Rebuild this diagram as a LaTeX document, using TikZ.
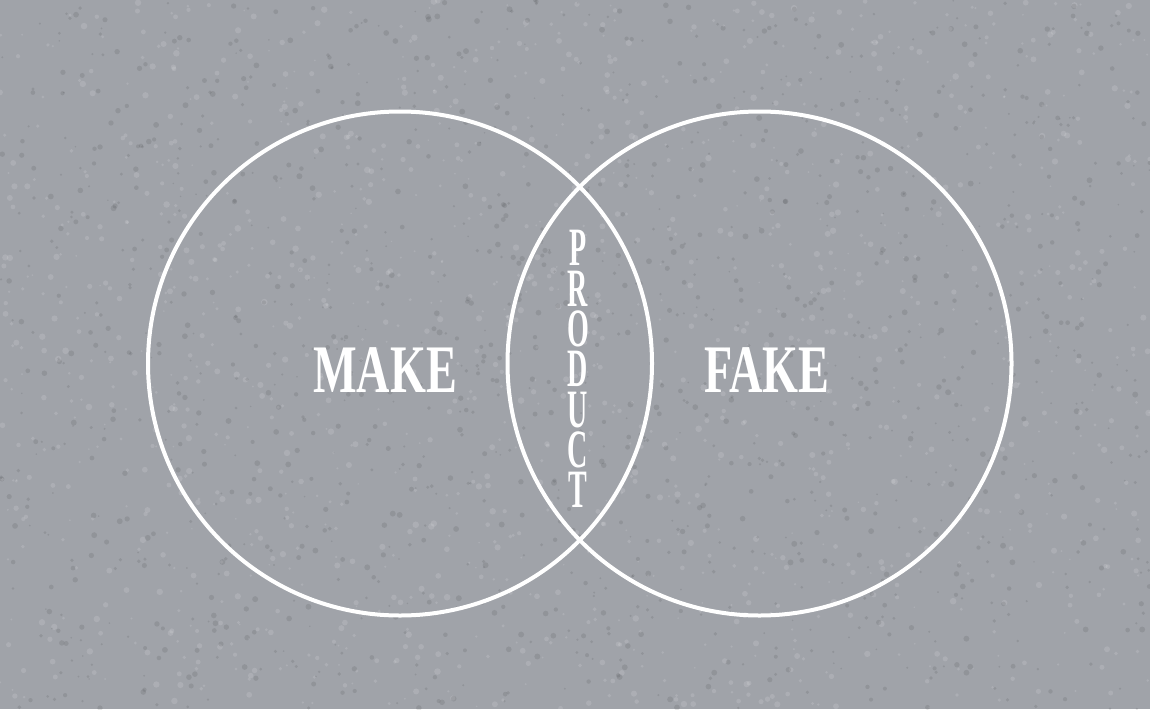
\documentclass[tikz,border=0pt]{standalone}
\usepackage{fontspec}
\setmainfont{Liberation Serif}
\definecolor{bgray}{RGB}{160,163,169}
\begin{document}
\begin{tikzpicture}[x=1pt,y=-1pt,
  ring/.style={draw=white,line width=4pt},
  word/.style={text=white,font=\bfseries\fontsize{68}{68}\selectfont,xscale=0.68,anchor=base,inner sep=0pt,text height=45pt,text depth=0pt},
  stack/.style={text=white,font=\bfseries\fontsize{54}{40.3}\selectfont,xscale=0.52,align=center,inner sep=0pt}]
\fill[bgray] (0,0) rectangle (1150,709);
\useasboundingbox (0,0) rectangle (1150,709);
\pgfmathsetseed{7}
\foreach \i in {1,...,1400}{
  \pgfmathsetmacro\px{rnd*1150}
  \pgfmathsetmacro\py{rnd*709}
  \pgfmathsetmacro\pr{0.8+rnd*2.5}
  \fill[white,opacity=0.13] (\px,\py) circle[radius=\pr];
}
\foreach \i in {1,...,1400}{
  \pgfmathsetmacro\px{rnd*1150}
  \pgfmathsetmacro\py{rnd*709}
  \pgfmathsetmacro\pr{0.8+rnd*2.2}
  \fill[black,opacity=0.09] (\px,\py) circle[radius=\pr];
}
\coordinate (L) at (400,363.5);
\coordinate (R) at (759.5,363.5);
\draw[ring] (L) circle[radius=252];
\draw[ring] (R) circle[radius=252];
\node[word] (make) at (385,392) {MAKE};
\node[word] (fake) at (767,392) {FAKE};
\node[stack] (product) at (578,369.1) {P\\R\\O\\D\\U\\C\\T};
\end{tikzpicture}
\end{document}
